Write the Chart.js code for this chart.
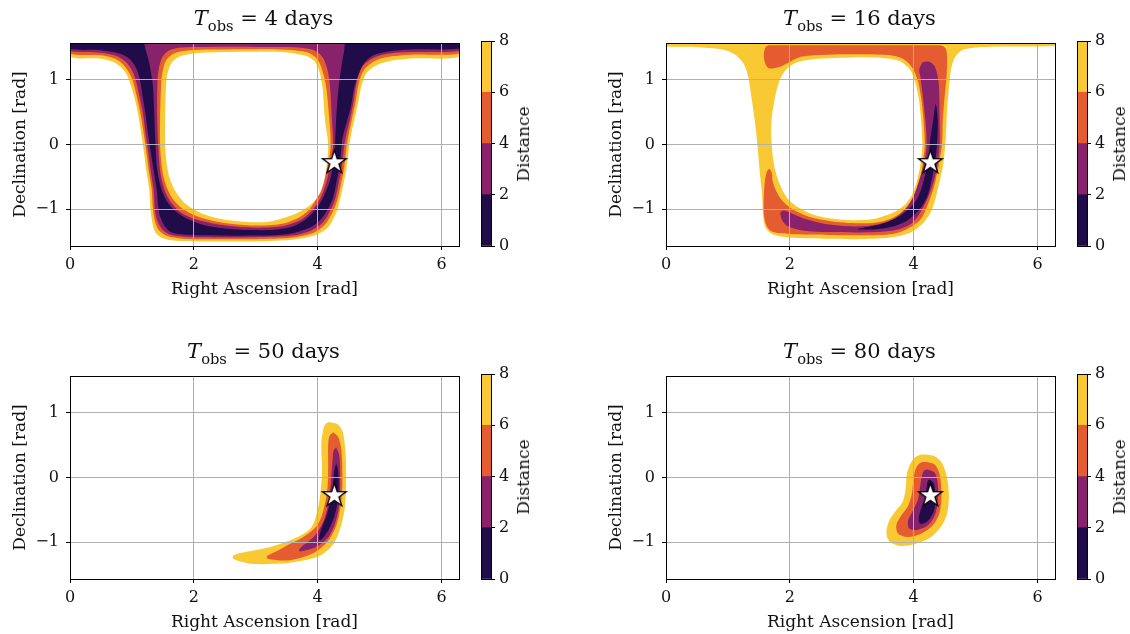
<!DOCTYPE html>
<html>
<head>
<meta charset="utf-8">
<script src="https://cdn.jsdelivr.net/npm/chart.js@4.4.1/dist/chart.umd.min.js"></script>
<style>
  body { margin: 0; background: #fff; width: 1130px; height: 634px; position: relative; overflow: hidden; font-family: "DejaVu Serif", serif; color: #111; }
  canvas { position: absolute; }
  .ttl { position: absolute; width: 387px; text-align: center; font-size: 21px; line-height: 24px; white-space: nowrap; }
  .ttl sub { font-size: 0.7em; vertical-align: -0.4em; line-height: 0; }
  .cbl { position: absolute; font-size: 17px; white-space: nowrap; transform: translate(-50%, -50%) rotate(-90deg); }
</style>
</head>
<body>
<script>
// inferno, 4 filled levels: 0-2, 2-4, 4-6, 6-8
const colors = ['#1f0c48', '#88226a', '#e55c30', '#f8c932'];
const levels = [0, 2, 4, 6, 8];
const obsDays = [4, 16, 50, 80];
const xTicks = [0, 2, 4, 6];
const yTicks = [-1, 0, 1];
const star = [4.27, -0.28];   // true source position (RA, Dec)

// ---- T_obs = 4 days : contour boundaries [RA, Dec] ----
const p1Yellow = [[0,1.571],[6.284,1.571],[6.284,1.357],[5.5,1.33],[5.14,1.29],[4.92,1.21],[4.78,1.09],[4.70,0.88],[4.65,0.63],[4.59,0.37],[4.53,0.10],[4.50,-0.10],[4.47,-0.35],[4.42,-0.60],[4.36,-0.85],[4.30,-1.06],[4.16,-1.29],[3.95,-1.41],[3.62,-1.47],[3.0,-1.50],[2.1,-1.50],[1.72,-1.49],[1.50,-1.45],[1.38,-1.36],[1.33,-1.21],[1.30,-1.0],[1.28,-0.70],[1.23,-0.39],[1.19,-0.09],[1.15,0.17],[1.10,0.47],[1.04,0.73],[0.96,0.98],[0.91,1.09],[0.83,1.19],[0.69,1.28],[0.48,1.33],[0,1.357]];
const p1Orange = [[0,1.571],[6.284,1.571],[6.284,1.41],[5.5,1.39],[5.1,1.35],[4.88,1.27],[4.74,1.14],[4.66,0.93],[4.61,0.65],[4.55,0.38],[4.49,0.10],[4.46,-0.10],[4.43,-0.35],[4.38,-0.60],[4.32,-0.85],[4.25,-1.03],[4.12,-1.24],[3.93,-1.37],[3.6,-1.44],[3.0,-1.465],[2.1,-1.465],[1.75,-1.45],[1.55,-1.41],[1.43,-1.32],[1.37,-1.18],[1.34,-1.0],[1.32,-0.70],[1.27,-0.39],[1.23,-0.09],[1.19,0.17],[1.14,0.47],[1.08,0.74],[1.01,1.0],[0.95,1.12],[0.86,1.24],[0.72,1.33],[0.5,1.38],[0,1.41]];
const p1Purple = [[0,1.571],[6.284,1.571],[6.284,1.45],[5.5,1.43],[5.1,1.40],[4.86,1.32],[4.71,1.19],[4.63,0.97],[4.58,0.66],[4.52,0.38],[4.45,0.10],[4.42,-0.10],[4.39,-0.35],[4.34,-0.60],[4.28,-0.85],[4.21,-1.01],[4.09,-1.20],[3.9,-1.33],[3.58,-1.41],[3.0,-1.435],[2.1,-1.435],[1.78,-1.42],[1.58,-1.38],[1.47,-1.29],[1.40,-1.15],[1.37,-1.0],[1.35,-0.70],[1.30,-0.39],[1.26,-0.09],[1.22,0.17],[1.18,0.47],[1.12,0.75],[1.06,1.0],[1.0,1.15],[0.9,1.28],[0.75,1.37],[0.5,1.42],[0,1.45]];
const p1Dark = [[0,1.571],[1.18,1.571],[1.22,1.47],[1.27,1.30],[1.31,1.10],[1.34,0.90],[1.36,0.50],[1.38,0.0],[1.41,-0.40],[1.48,-0.70],[1.60,-0.93],[1.80,-1.10],[2.1,-1.23],[2.5,-1.30],[2.9,-1.325],[3.3,-1.32],[3.6,-1.27],[3.82,-1.15],[3.97,-1.0],[4.1,-0.80],[4.2,-0.55],[4.26,-0.27],[4.28,0.0],[4.30,0.40],[4.33,0.80],[4.36,1.05],[4.40,1.30],[4.43,1.45],[4.46,1.571],[6.284,1.571],[6.284,1.485],[5.5,1.47],[5.14,1.44],[4.9,1.38],[4.75,1.26],[4.66,1.08],[4.59,0.88],[4.54,0.60],[4.47,0.35],[4.40,0.10],[4.38,-0.10],[4.35,-0.35],[4.30,-0.60],[4.25,-0.82],[4.17,-0.99],[4.05,-1.16],[3.87,-1.29],[3.55,-1.38],[3.0,-1.41],[2.1,-1.405],[1.8,-1.39],[1.62,-1.35],[1.52,-1.25],[1.45,-1.10],[1.43,-1.0],[1.40,-0.70],[1.35,-0.39],[1.30,-0.09],[1.26,0.17],[1.22,0.47],[1.17,0.76],[1.13,1.0],[1.07,1.18],[0.97,1.32],[0.8,1.41],[0.5,1.46],[0,1.48]];
const p1OrangeIn = [[3.0,1.51],[2.2,1.51],[1.8,1.50],[1.6,1.455],[1.49,1.35],[1.43,1.15],[1.41,0.90],[1.41,0.40],[1.43,-0.10],[1.47,-0.50],[1.57,-0.80],[1.75,-1.02],[2.0,-1.15],[2.4,-1.24],[2.8,-1.28],[3.2,-1.285],[3.5,-1.25],[3.76,-1.15],[3.93,-1.0],[4.06,-0.80],[4.15,-0.55],[4.22,-0.25],[4.25,0.0],[4.23,0.40],[4.20,0.90],[4.16,1.15],[4.08,1.35],[3.95,1.455],[3.7,1.50],[3.3,1.51]];
const p1YellowIn = [[3.0,1.475],[2.3,1.47],[1.9,1.455],[1.68,1.41],[1.55,1.30],[1.49,1.10],[1.47,0.88],[1.455,0.37],[1.46,-0.10],[1.51,-0.50],[1.62,-0.78],[1.80,-0.98],[2.05,-1.11],[2.4,-1.20],[2.8,-1.245],[3.2,-1.25],[3.5,-1.21],[3.72,-1.12],[3.87,-1.0],[4.01,-0.78],[4.11,-0.50],[4.18,-0.25],[4.21,0.0],[4.19,0.37],[4.14,0.88],[4.09,1.10],[4.01,1.30],[3.88,1.41],[3.65,1.455],[3.3,1.475]];
const p1Hole = [[3.0,1.435],[2.37,1.428],[1.99,1.41],[1.77,1.36],[1.64,1.26],[1.57,1.08],[1.55,0.88],[1.535,0.37],[1.545,-0.14],[1.60,-0.495],[1.72,-0.75],[1.88,-0.93],[2.10,-1.056],[2.42,-1.15],[2.80,-1.195],[3.18,-1.20],[3.41,-1.15],[3.68,-1.056],[3.89,-0.93],[4.04,-0.75],[4.12,-0.50],[4.15,-0.29],[4.17,0.0],[4.12,0.37],[4.08,0.88],[4.04,1.087],[3.97,1.26],[3.84,1.36],[3.62,1.41],[3.30,1.435]];

// ---- T_obs = 16 days ----
const p2Yellow = [[0,1.571],[6.284,1.571],[6.284,1.525],[5.14,1.51],[4.81,1.47],[4.68,1.37],[4.61,1.19],[4.57,0.88],[4.54,0.53],[4.52,0.12],[4.48,-0.29],[4.40,-0.65],[4.30,-1.0],[4.16,-1.21],[3.95,-1.36],[3.62,-1.44],[3.08,-1.465],[2.64,-1.46],[1.99,-1.44],[1.72,-1.39],[1.61,-1.29],[1.57,-1.11],[1.55,-0.75],[1.51,-0.39],[1.48,-0.04],[1.44,0.32],[1.38,0.73],[1.33,1.04],[1.26,1.24],[1.12,1.39],[0.91,1.47],[0.48,1.51],[0,1.52]];
const p2Hole = [[3.08,1.35],[2.37,1.32],[2.10,1.265],[1.94,1.16],[1.83,0.98],[1.75,0.68],[1.70,0.32],[1.71,-0.04],[1.75,-0.34],[1.83,-0.60],[1.96,-0.83],[2.15,-0.98],[2.42,-1.10],[2.80,-1.16],[3.18,-1.17],[3.41,-1.14],[3.68,-1.05],[3.87,-0.92],[3.99,-0.75],[4.07,-0.50],[4.12,-0.24],[4.14,0.0],[4.12,0.37],[4.08,0.73],[4.02,0.98],[3.94,1.16],[3.78,1.29],[3.51,1.34]];
const p2Orange = [[1.66,1.535],[2.5,1.535],[3.5,1.535],[4.3,1.535],[4.46,1.53],[4.52,1.48],[4.54,1.34],[4.53,1.04],[4.50,0.73],[4.47,0.37],[4.46,0.02],[4.41,-0.29],[4.33,-0.65],[4.22,-0.95],[4.11,-1.16],[3.89,-1.31],[3.62,-1.39],[3.08,-1.405],[2.64,-1.40],[2.10,-1.39],[1.72,-1.35],[1.62,-1.25],[1.58,-1.06],[1.58,-0.80],[1.60,-0.55],[1.63,-0.42],[1.67,-0.38],[1.71,-0.44],[1.72,-0.55],[1.77,-0.70],[1.87,-0.86],[2.04,-1.0],[2.31,-1.12],[2.69,-1.19],[3.18,-1.22],[3.5,-1.19],[3.73,-1.10],[3.9,-0.95],[4.02,-0.75],[4.11,-0.50],[4.16,-0.20],[4.18,0.0],[4.16,0.37],[4.12,0.73],[4.07,0.98],[3.99,1.17],[3.87,1.30],[3.7,1.37],[3.3,1.395],[2.6,1.39],[2.2,1.36],[2.02,1.29],[1.83,1.20],[1.66,1.18],[1.60,1.26],[1.58,1.40],[1.61,1.51]];
const p2Purple = [[4.14,1.27],[4.25,1.28],[4.34,1.21],[4.39,1.04],[4.41,0.88],[4.42,0.37],[4.42,0.0],[4.37,-0.39],[4.28,-0.70],[4.14,-1.0],[3.98,-1.21],[3.73,-1.32],[3.41,-1.355],[3.08,-1.36],[2.64,-1.355],[2.21,-1.33],[1.96,-1.26],[1.87,-1.16],[1.85,-1.05],[1.90,-1.02],[1.99,-1.05],[2.21,-1.14],[2.64,-1.24],[3.08,-1.27],[3.41,-1.24],[3.68,-1.15],[3.87,-1.0],[4.0,-0.80],[4.09,-0.55],[4.17,-0.29],[4.21,0.0],[4.19,0.37],[4.15,0.73],[4.11,1.04],[4.09,1.16]];
const p2Dark = [[4.35,0.63],[4.32,0.40],[4.27,0.10],[4.24,-0.20],[4.19,-0.45],[4.13,-0.67],[4.05,-0.85],[3.92,-1.0],[3.74,-1.13],[3.48,-1.23],[3.1,-1.31],[3.4,-1.31],[3.7,-1.26],[3.92,-1.16],[4.1,-1.0],[4.22,-0.80],[4.29,-0.55],[4.35,-0.25],[4.38,0.05],[4.39,0.35],[4.37,0.58]];

// ---- T_obs = 50 days ----
const p3Yellow = [[4.19,0.86],[4.33,0.82],[4.41,0.69],[4.45,0.38],[4.46,0.0],[4.44,-0.46],[4.36,-0.80],[4.24,-1.05],[4.02,-1.22],[3.55,-1.32],[2.98,-1.34],[2.75,-1.30],[2.63,-1.25],[2.65,-1.20],[2.85,-1.15],[3.25,-1.07],[3.68,-0.92],[3.9,-0.77],[4.0,-0.50],[4.05,-0.20],[4.07,0.12],[4.06,0.53],[4.09,0.74],[4.13,0.83]];
const p3Orange = [[4.25,0.70],[4.33,0.63],[4.38,0.45],[4.40,0.10],[4.39,-0.30],[4.31,-0.72],[4.17,-0.98],[3.95,-1.16],[3.55,-1.28],[3.2,-1.26],[3.18,-1.22],[3.32,-1.15],[3.55,-1.03],[3.80,-0.90],[4.0,-0.73],[4.1,-0.48],[4.16,-0.15],[4.17,0.20],[4.17,0.50],[4.19,0.64]];
const p3Purple = [[4.30,0.47],[4.35,0.34],[4.365,0.0],[4.36,-0.30],[4.31,-0.62],[4.19,-0.90],[4.0,-1.06],[3.8,-1.13],[3.70,-1.14],[3.72,-1.09],[3.84,-1.0],[3.98,-0.87],[4.11,-0.64],[4.19,-0.31],[4.22,0.0],[4.24,0.25],[4.26,0.42]];
const p3Dark = [[4.30,0.22],[4.33,0.10],[4.34,-0.10],[4.33,-0.35],[4.27,-0.60],[4.17,-0.82],[4.06,-0.96],[4.02,-0.95],[4.06,-0.80],[4.14,-0.60],[4.21,-0.35],[4.25,-0.10],[4.27,0.10]];

// ---- T_obs = 80 days ----
const p4Yellow = [[4.18,0.355],[4.34,0.33],[4.46,0.22],[4.54,0.0],[4.57,-0.30],[4.54,-0.56],[4.45,-0.75],[4.27,-0.93],[4.02,-1.03],[3.78,-1.06],[3.62,-1.0],[3.56,-0.87],[3.60,-0.68],[3.70,-0.53],[3.82,-0.38],[3.87,-0.18],[3.89,0.05],[3.94,0.20],[4.02,0.31],[4.10,0.35]];
const p4Orange = [[4.21,0.24],[4.34,0.20],[4.42,0.05],[4.45,-0.26],[4.42,-0.54],[4.31,-0.74],[4.12,-0.87],[3.91,-0.92],[3.75,-0.87],[3.72,-0.74],[3.80,-0.59],[3.91,-0.44],[3.97,-0.26],[4.0,0.0],[4.04,0.15],[4.11,0.23]];
const p4Purple = [[4.23,0.125],[4.34,0.075],[4.39,-0.10],[4.39,-0.36],[4.34,-0.59],[4.23,-0.74],[4.07,-0.81],[3.93,-0.79],[3.91,-0.67],[3.99,-0.51],[4.07,-0.34],[4.11,-0.10],[4.14,0.05],[4.17,0.11]];
const p4Dark = [[4.26,-0.03],[4.33,-0.10],[4.35,-0.33],[4.33,-0.51],[4.23,-0.67],[4.12,-0.72],[4.08,-0.67],[4.11,-0.51],[4.18,-0.36],[4.21,-0.15],[4.23,-0.05]];

const FONT = '"DejaVu Serif", serif';
const HOLE = -1; // white

// panels: page position of the plot box + layers drawn bottom -> top
const panels = [
  { left: 70,  top: 41,  layers: [[p1Yellow,3],[p1Orange,2],[p1Purple,1],[p1Dark,0],[p1OrangeIn,2],[p1YellowIn,3],[p1Hole,HOLE]] },
  { left: 666, top: 41,  layers: [[p2Yellow,3],[p2Hole,HOLE],[p2Orange,2],[p2Purple,1],[p2Dark,0]] },
  { left: 70,  top: 374, layers: [[p3Yellow,3],[p3Orange,2],[p3Purple,1],[p3Dark,0]] },
  { left: 666, top: 374, layers: [[p4Yellow,3],[p4Orange,2],[p4Purple,1],[p4Dark,0]] }
];

// white star marker with black edge
function makeStar(R) {
  const c = document.createElement('canvas');
  const s = Math.ceil(2 * R + 4);
  c.width = c.height = s;
  const g = c.getContext('2d');
  g.translate(s / 2, s / 2);
  g.beginPath();
  for (let i = 0; i < 10; i++) {
    const r = i % 2 ? R * 0.382 : R;
    const a = -Math.PI / 2 + i * Math.PI / 5;
    g.lineTo(r * Math.cos(a), r * Math.sin(a));
  }
  g.closePath();
  g.fillStyle = '#fff';
  g.fill();
  g.lineWidth = 1.3;
  g.strokeStyle = '#000';
  g.stroke();
  return c;
}
const starImg = makeStar(12.5);

// black box around the plotting area
const al = p => Math.round(p - 0.5) + 0.5;
const frame = {
  id: 'frame',
  afterDraw(chart) {
    const { ctx, chartArea: a } = chart;
    ctx.save();
    ctx.strokeStyle = '#000';
    ctx.lineWidth = 1;
    ctx.strokeRect(al(a.left), al(a.top), al(a.right) - al(a.left), al(a.bottom) - al(a.top));
    ctx.restore();
  }
};

const minus = v => (v < 0 ? '\u2212' + Math.abs(v) : String(v));
// keep the plot box where the layout puts it (no label overhang padding)
const noPad = s => { s.paddingLeft = s.paddingRight = s.paddingTop = s.paddingBottom = 0; };

function addCanvas(left, top, w, h) {
  const cv = document.createElement('canvas');
  cv.width = w; cv.height = h;
  cv.style.left = left + 'px';
  cv.style.top = top + 'px';
  document.body.appendChild(cv);
  return cv;
}

function drawPanel(p, k) {
  const cv = addCanvas(p.left - 70, p.top - 11, 472, 280);
  const datasets = p.layers.map(([pts, c], i) => ({
    data: pts.concat([pts[0]]).map(([x, y]) => ({ x, y })),
    showLine: true,
    fill: 'shape',
    tension: 0.3,
    backgroundColor: c === HOLE ? '#ffffff' : colors[c],
    borderWidth: 0,
    pointRadius: 0,
    order: 100 - i
  }));
  datasets.push({ data: [{ x: star[0], y: star[1] }], pointStyle: starImg, pointRadius: 12, order: 0 });

  new Chart(cv, {
    type: 'scatter',
    data: { datasets },
    plugins: [frame],
    options: {
      responsive: false,
      animation: false,
      events: [],
      layout: { padding: { top: 11, right: 8 } },
      plugins: { legend: { display: false }, tooltip: { enabled: false } },
      scales: {
        x: {
          type: 'linear', min: 0, max: 2 * Math.PI,
          afterBuildTicks: s => { s.ticks = xTicks.map(v => ({ value: v })); },
          afterFit: s => { s.height = 64; noPad(s); },
          ticks: { font: { family: FONT, size: 16 }, color: '#111', padding: 5, maxRotation: 0 },
          grid: { color: '#b0b0b0', lineWidth: 1, z: 1, tickLength: 4, tickColor: '#000' },
          border: { display: false },
          title: { display: true, text: 'Right Ascension [rad]', color: '#111', font: { family: FONT, size: 17 }, padding: { top: 0, bottom: 10 } }
        },
        y: {
          type: 'linear', min: -Math.PI / 2, max: Math.PI / 2,
          afterBuildTicks: s => { s.ticks = yTicks.map(v => ({ value: v })); },
          afterFit: s => { s.width = 70; noPad(s); },
          ticks: { font: { family: FONT, size: 16 }, color: '#111', padding: 7, callback: minus },
          grid: { color: '#b0b0b0', lineWidth: 1, z: 1, tickLength: 4, tickColor: '#000' },
          border: { display: false },
          title: { display: true, text: 'Declination [rad]', color: '#111', font: { family: FONT, size: 17 }, padding: { top: 10, bottom: 0 } }
        }
      }
    }
  });

  // title with subscript
  const t = document.createElement('div');
  t.className = 'ttl';
  t.style.left = p.left + 'px';
  t.style.top = (p.top - 35) + 'px';
  t.innerHTML = '<i>T</i><sub>obs</sub> = ' + obsDays[k] + ' days';
  document.body.appendChild(t);

  drawColorbar(p);
}

function drawColorbar(p) {
  const cv = addCanvas(p.left + 400, p.top - 11, 70, 280);
  const datasets = colors.map((c, i) => ({
    data: [levels[i + 1] - levels[i]],
    backgroundColor: c,
    borderWidth: 0,
    barPercentage: 1,
    categoryPercentage: 1
  }));
  new Chart(cv, {
    type: 'bar',
    data: { labels: [''], datasets },
    plugins: [frame],
    options: {
      responsive: false,
      animation: false,
      events: [],
      layout: { padding: { left: 11, top: 11, bottom: 64 } },
      plugins: { legend: { display: false }, tooltip: { enabled: false } },
      scales: {
        x: { display: false, stacked: true },
        y: {
          stacked: true, position: 'right', min: levels[0], max: levels[levels.length - 1],
          afterBuildTicks: s => { s.ticks = levels.map(v => ({ value: v })); },
          afterFit: s => { s.width = 49; noPad(s); },
          ticks: { font: { family: FONT, size: 16 }, color: '#111', padding: 4 },
          grid: { drawOnChartArea: false, tickLength: 4, tickColor: '#000' },
          border: { display: false }
        }
      }
    }
  });
  const lab = document.createElement('div');
  lab.className = 'cbl';
  lab.style.left = (p.left + 453) + 'px';
  lab.style.top = (p.top + 102.5) + 'px';
  lab.textContent = 'Distance';
  document.body.appendChild(lab);
}

panels.forEach(drawPanel);
</script>
</body>
</html>
